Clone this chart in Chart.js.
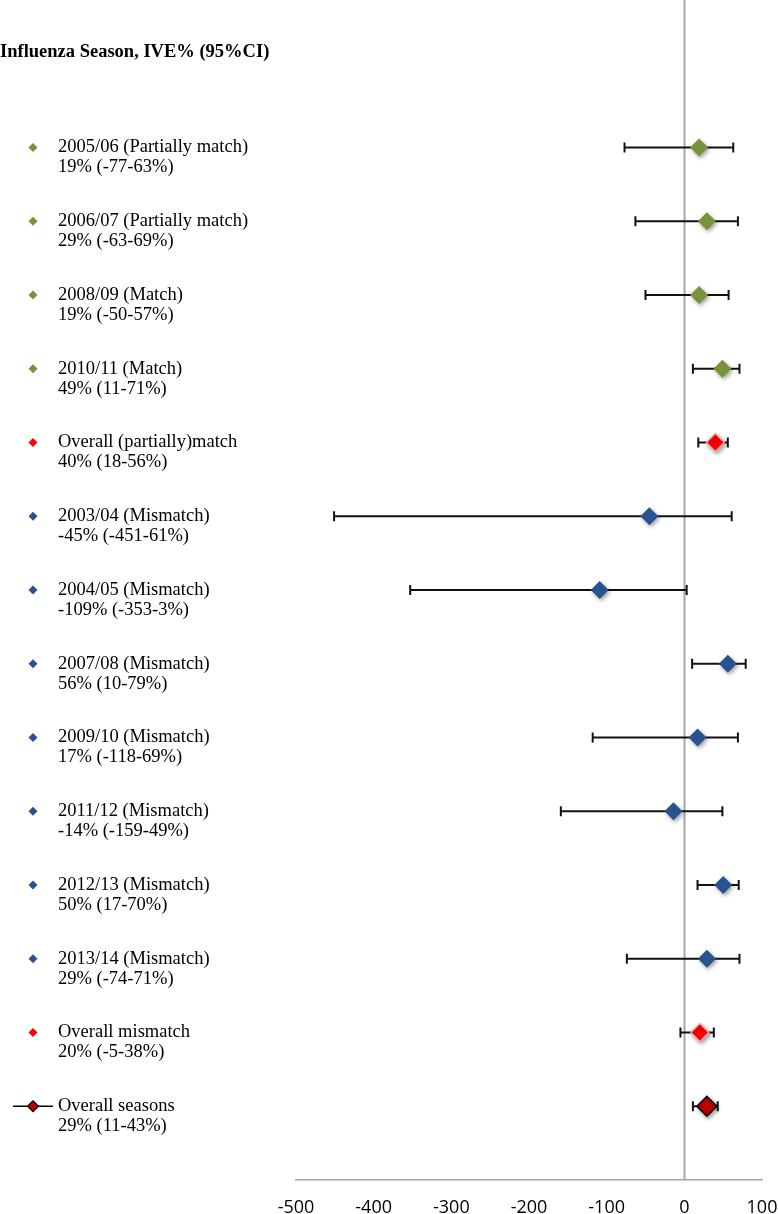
<!DOCTYPE html>
<html>
<head>
<meta charset="utf-8">
<script src="https://cdn.jsdelivr.net/npm/chart.js@4.4.1/dist/chart.umd.min.js"></script>
<style>
  html, body { margin: 0; padding: 0; background: #ffffff; }
  #wrap { width: 778px; height: 1214px; }
  canvas { display: block; }
</style>
</head>
<body>
<div id="wrap"><canvas id="c" width="778" height="1214"></canvas></div>
<script>
// ---- data ----
const seasons = [
  "2005/06 (Partially match)",
  "2006/07 (Partially match)",
  "2008/09 (Match)",
  "2010/11 (Match)",
  "Overall (partially)match",
  "2003/04 (Mismatch)",
  "2004/05 (Mismatch)",
  "2007/08 (Mismatch)",
  "2009/10 (Mismatch)",
  "2011/12 (Mismatch)",
  "2012/13 (Mismatch)",
  "2013/14 (Mismatch)",
  "Overall mismatch",
  "Overall seasons"
];
const ive    = [19, 29, 19, 49, 40, -45, -109, 56, 17, -14, 50, 29, 20, 29];
const ciLow  = [-77, -63, -50, 11, 18, -451, -353, 10, -118, -159, 17, -74, -5, 11];
const ciHigh = [63, 69, 57, 71, 56, 61, 3, 79, 69, 49, 70, 71, 38, 43];
const groups = ["match","match","match","match","pooled",
                "mismatch","mismatch","mismatch","mismatch","mismatch","mismatch","mismatch",
                "pooled","total"];
const xTicks = [-500, -400, -300, -200, -100, 0, 100];
const titleText = "Influenza Season, IVE% (95%CI)";

// ---- styles ----
const fillByGroup   = { match: "#77933C", mismatch: "#28538F", pooled: "#FF0000", total: "#C00000" };
const borderByGroup = { match: "#77933C", mismatch: "#28538F", pooled: "rgba(255,170,170,0.9)", total: "#000000" };
const radiusByGroup = { match: 9, mismatch: 9, pooled: 9, total: 10 };

const rowY = seasons.map((_, i) => seasons.length - i);
const points = ive.map((v, i) => ({ x: v, y: rowY[i] }));

// keep the plot area flush with the canvas top (no automatic point-overflow padding)
Chart.ScatterController.prototype.getMaxOverflow = function () { return false; };

const errorBars = {
  id: "errorBars",
  beforeDatasetsDraw(chart) {
    const { ctx, scales: { x, y }, chartArea } = chart;
    ctx.save();
    const x0 = Math.round(x.getPixelForValue(0)) + 0.5;
    ctx.strokeStyle = "#A6A6A6";
    ctx.lineWidth = 2;
    ctx.beginPath();
    ctx.moveTo(x0, 0);
    ctx.lineTo(x0, chartArea.bottom);
    ctx.stroke();
    ctx.strokeStyle = "#111111";
    ctx.lineWidth = 2;
    for (let i = 0; i < ive.length; i++) {
      const py = y.getPixelForValue(rowY[i]);
      const xl = x.getPixelForValue(ciLow[i]);
      const xh = x.getPixelForValue(ciHigh[i]);
      ctx.beginPath();
      ctx.moveTo(xl, py); ctx.lineTo(xh, py);
      ctx.moveTo(xl, py - 5); ctx.lineTo(xl, py + 5);
      ctx.moveTo(xh, py - 5); ctx.lineTo(xh, py + 5);
      ctx.stroke();
    }
    ctx.restore();
  },
  beforeDatasetDraw(chart) {
    const ctx = chart.ctx;
    ctx.save();
    ctx.shadowColor = "rgba(0,0,0,0.38)";
    ctx.shadowBlur = 4;
    ctx.shadowOffsetX = 1.5;
    ctx.shadowOffsetY = 2;
  },
  afterDatasetDraw(chart) {
    chart.ctx.restore();
  },
  afterDraw(chart) {
    const { ctx, scales: { y } } = chart;
    ctx.save();
    ctx.fillStyle = "#000";
    ctx.textBaseline = "middle";
    ctx.textAlign = "left";
    ctx.font = "bold 18.5px 'Liberation Serif', 'Times New Roman', serif";
    ctx.fillText(titleText, 0, 52);
    ctx.font = "18.5px 'Liberation Serif', 'Times New Roman', serif";
    for (let i = 0; i < seasons.length; i++) {
      const py = y.getPixelForValue(rowY[i]);
      ctx.fillStyle = "#000";
      ctx.fillText(seasons[i], 58, py);
      ctx.fillText(ive[i] + "% (" + ciLow[i] + "-" + ciHigh[i] + "%)", 58, py + 20);
      const g = groups[i];
      const mx = 33;
      if (g === "total") {
        ctx.strokeStyle = "#000"; ctx.lineWidth = 1.5;
        ctx.beginPath(); ctx.moveTo(13, py); ctx.lineTo(53, py); ctx.stroke();
        ctx.beginPath();
        ctx.moveTo(mx, py - 5.5); ctx.lineTo(mx + 5.5, py); ctx.lineTo(mx, py + 5.5); ctx.lineTo(mx - 5.5, py); ctx.closePath();
        ctx.fillStyle = fillByGroup[g]; ctx.fill();
        ctx.lineWidth = 1.2; ctx.stroke();
      } else {
        const r = 4.5;
        ctx.beginPath();
        ctx.moveTo(mx, py - r); ctx.lineTo(mx + r, py); ctx.lineTo(mx, py + r); ctx.lineTo(mx - r, py); ctx.closePath();
        ctx.fillStyle = fillByGroup[g]; ctx.fill();
      }
    }
    ctx.restore();
  }
};

new Chart(document.getElementById("c"), {
  type: "scatter",
  data: {
    datasets: [{
      data: points,
      pointStyle: "rectRot",
      pointRadius: groups.map(g => radiusByGroup[g]),
      pointHoverRadius: groups.map(g => radiusByGroup[g]),
      pointBackgroundColor: groups.map(g => fillByGroup[g]),
      pointBorderColor: groups.map(g => borderByGroup[g]),
      pointBorderWidth: groups.map(g => g === "total" ? 1.5 : (g === "pooled" ? 1.5 : 0)),
      clip: false
    }]
  },
  options: {
    responsive: false,
    animation: false,
    events: [],
    layout: { padding: { left: 296, right: 16, top: 0, bottom: 0 } },
    plugins: { legend: { display: false }, tooltip: { enabled: false }, title: { display: false } },
    scales: {
      x: {
        type: "linear",
        min: xTicks[0],
        max: xTicks[xTicks.length - 1],
        afterBuildTicks(scale) { scale.ticks = xTicks.map(v => ({ value: v })); },
        afterFit(scale) {
          scale.height = 34;
          scale.paddingLeft = 0;
          scale.paddingRight = 0;
        },
        ticks: {
          padding: 17,
          color: "#000",
          font: { family: "'Open Sans', 'Liberation Sans', sans-serif", size: 18 },
          maxRotation: 0,
          autoSkip: false
        },
        grid: { display: false, drawTicks: false },
        border: { display: true, color: "#A6A6A6", width: 1.5 }
      },
      y: {
        type: "linear",
        min: 0,
        max: 16,
        display: false
      }
    }
  },
  plugins: [errorBars]
});
</script>
</body>
</html>
